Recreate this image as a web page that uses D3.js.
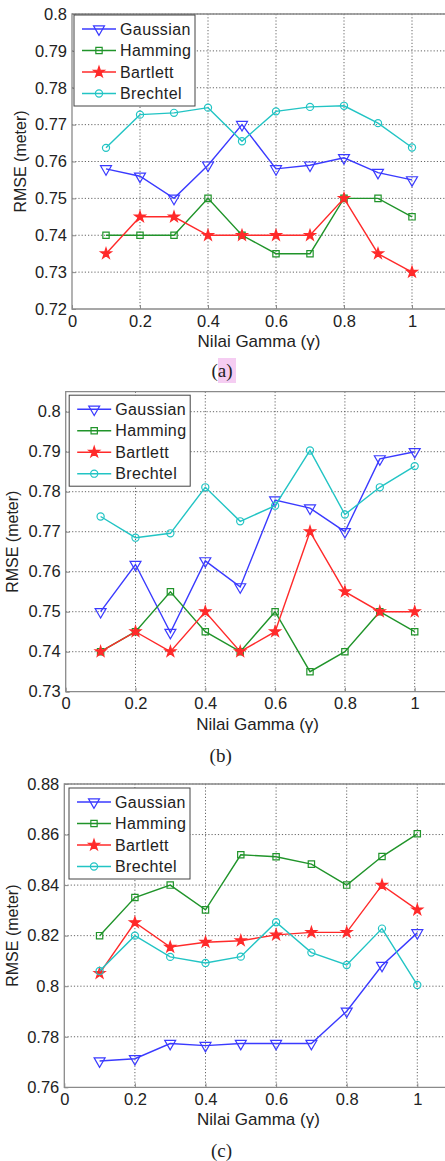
<!DOCTYPE html>
<html>
<head>
<meta charset="utf-8">
<script src="https://cdn.jsdelivr.net/npm/d3@7"></script>
<style>
  body { margin: 0; background: #fff; }
  text { font-family: Arial, "Liberation Sans", sans-serif; fill: #222; }
</style>
</head>
<body>
<script>
// gamma values (x axis)
var gamma = [0.1, 0.2, 0.3, 0.4, 0.5, 0.6, 0.7, 0.8, 0.9, 1.0];
var seriesNames = ["Gaussian", "Hamming", "Bartlett", "Brechtel"];
var xTicks = [0, 0.2, 0.4, 0.6, 0.8, 1];

// panel (a)
var aGaussian = [0.758, 0.756, 0.750, 0.759, 0.770, 0.758, 0.759, 0.761, 0.757, 0.755];
var aHamming  = [0.740, 0.740, 0.740, 0.750, 0.740, 0.735, 0.735, 0.750, 0.750, 0.745];
var aBartlett = [0.735, 0.745, 0.745, 0.740, 0.740, 0.740, 0.740, 0.750, 0.735, 0.730];
var aBrechtel = [0.7637, 0.7727, 0.7732, 0.7746, 0.7655, 0.7736, 0.7748, 0.7751, 0.7704, 0.7638];
var aTicks = [0.72, 0.73, 0.74, 0.75, 0.76, 0.77, 0.78, 0.79, 0.80];

// panel (b)
var bGaussian = [0.750, 0.7618, 0.7448, 0.7627, 0.7562, 0.7779, 0.7759, 0.770, 0.7882, 0.790];
var bHamming  = [0.740, 0.745, 0.755, 0.745, 0.740, 0.750, 0.735, 0.740, 0.750, 0.745];
var bBartlett = [0.740, 0.745, 0.740, 0.750, 0.740, 0.745, 0.770, 0.755, 0.750, 0.750];
var bBrechtel = [0.7738, 0.7685, 0.7696, 0.7811, 0.7726, 0.7765, 0.7903, 0.7743, 0.7811, 0.7864];
var bTicks = [0.73, 0.74, 0.75, 0.76, 0.77, 0.78, 0.79, 0.80];

// panel (c)
var cGaussian = [0.7704, 0.7713, 0.7773, 0.7765, 0.7773, 0.7773, 0.7773, 0.7901, 0.8082, 0.8211];
var cHamming  = [0.820, 0.8351, 0.840, 0.8302, 0.852, 0.8512, 0.8483, 0.840, 0.8513, 0.8603];
var cBartlett = [0.8051, 0.8252, 0.8155, 0.8174, 0.818, 0.8203, 0.8213, 0.8213, 0.840, 0.8302];
var cBrechtel = [0.806, 0.820, 0.8116, 0.8092, 0.8117, 0.8253, 0.8133, 0.8084, 0.8228, 0.8005];
var cTicks = [0.76, 0.78, 0.80, 0.82, 0.84, 0.86, 0.88];

var colors = ["#3a3aff", "#20942a", "#ff2a2a", "#22c4c4"];
var markers = [d3.symbolTriangle, d3.symbolSquare, d3.symbolStar, d3.symbolCircle];
var markerSize = [52, 40, 36, 40];

var svg = d3.select("body").append("svg")
    .attr("width", 445)
    .attr("height", 1161);

function marker(g, i, x, y){
    var s = g.append("path")
        .attr("d", d3.symbol().type(markers[i]).size(markerSize[i])())
        .attr("transform", "translate(" + x + "," + y + ")" + (i == 0 ? " rotate(180)" : ""))
        .attr("stroke", colors[i])
        .attr("stroke-width", 1.2);
    if (i == 2) s.attr("fill", colors[i]); else s.attr("fill", "none");
}

function drawPanel(p){
    var x = d3.scaleLinear().domain([0, 1.1]).range([p.left, p.right]);
    var y = d3.scaleLinear().domain(p.yDomain).range([p.bottom, p.top]);
    var g = svg.append("g");

    // dotted grid
    g.selectAll(".gx").data(xTicks.slice(1)).enter().append("line")
        .attr("x1", d => x(d)).attr("x2", d => x(d))
        .attr("y1", p.top).attr("y2", p.bottom)
        .attr("stroke", "#555").attr("stroke-width", 0.9).attr("stroke-dasharray", "1.2,2");
    g.selectAll(".gy").data(p.yTicks.slice(1)).enter().append("line")
        .attr("x1", p.left).attr("x2", p.right)
        .attr("y1", d => y(d)).attr("y2", d => y(d))
        .attr("stroke", "#555").attr("stroke-width", 0.9).attr("stroke-dasharray", "1.2,2");

    // frame
    g.append("path")
        .attr("d", "M" + p.right + "," + p.top + "H" + p.left + "V" + p.bottom + "H" + p.right)
        .attr("fill", "none").attr("stroke", "#8a8a8a").attr("stroke-width", 1.3);

    // tick marks + labels
    var yAxis = d3.axisLeft(y).tickValues(p.yTicks).tickSize(-4).tickPadding(5)
        .tickFormat(d => String(+d.toFixed(2)));
    var ya = g.append("g").attr("transform", "translate(" + p.left + ",0)").call(yAxis);
    var xAxis = d3.axisBottom(x).tickValues(xTicks).tickSize(-4).tickPadding(6)
        .tickFormat(d => String(+d.toFixed(1)));
    var xa = g.append("g").attr("transform", "translate(0," + p.bottom + ")").call(xAxis);
    [ya, xa].forEach(function(a){
        a.select(".domain").remove();
        a.selectAll(".tick line").attr("stroke", "#8a8a8a");
        a.selectAll(".tick text").attr("font-size", 16.5).attr("fill", "#222")
            .style("font-family", "Arial, 'Liberation Sans', sans-serif");
    });

    // lines and markers
    p.series.forEach(function(vals, i){
        var line = d3.line().x((d, k) => x(gamma[k])).y(d => y(d));
        g.append("path").datum(vals)
            .attr("d", line)
            .attr("fill", "none")
            .attr("stroke", colors[i])
            .attr("stroke-width", 1.4);
        vals.forEach(function(v, k){ marker(g, i, x(gamma[k]), y(v)); });
    });

    // legend
    var lg = g.append("g");
    lg.append("rect")
        .attr("x", p.left + p.legend[0]).attr("y", p.top + p.legend[1])
        .attr("width", 121).attr("height", 91)
        .attr("fill", "#fff").attr("stroke", "#444").attr("stroke-width", 1);
    seriesNames.forEach(function(name, i){
        var ly = p.top + p.legend[1] + 14 + i * 21.5;
        var lx = p.left + p.legend[0];
        lg.append("line")
            .attr("x1", lx + 8).attr("x2", lx + 42)
            .attr("y1", ly).attr("y2", ly)
            .attr("stroke", colors[i]).attr("stroke-width", 1.4);
        marker(lg, i, lx + 25, ly);
        lg.append("text")
            .attr("x", lx + 46).attr("y", ly)
            .attr("dy", "0.36em")
            .attr("font-size", 16)
            .attr("letter-spacing", 0.4)
            .text(name);
    });

    // axis titles
    g.append("text")
        .attr("transform", "translate(" + p.ylabX + "," + (p.top + p.bottom) / 2 + ") rotate(-90)")
        .attr("text-anchor", "middle").attr("dy", "0.36em")
        .attr("font-size", 16)
        .text("RMSE (meter)");
    g.append("text")
        .attr("x", (p.left + p.right) / 2).attr("y", p.bottom + 32)
        .attr("text-anchor", "middle").attr("dy", "0.36em")
        .attr("font-size", 17)
        .text("Nilai Gamma (\u03b3)");

    // caption
    if (p.pink) {
        g.append("rect").attr("x", 218).attr("y", p.bottom + 49)
            .attr("width", 18).attr("height", 25).attr("fill", "#f5cdf2");
    }
    g.append("text")
        .attr("x", (p.left + p.right) / 2 - 37).attr("y", p.bottom + p.capDy)
        .attr("text-anchor", "middle").attr("dy", "0.36em")
        .attr("font-size", 19)
        .style("font-family", "'Liberation Serif', 'Times New Roman', serif")
        .text(p.caption);
}

drawPanel({left: 72, right: 446, top: 14, bottom: 309, yDomain: [0.72, 0.80], yTicks: aTicks,
    series: [aGaussian, aHamming, aBartlett, aBrechtel], legend: [2, 1], ylabX: 20,
    capDy: 61, caption: "(a)", pink: true});
drawPanel({left: 65.7, right: 449.6, top: 391.7, bottom: 691.7, yDomain: [0.73, 0.805], yTicks: bTicks,
    series: [bGaussian, bHamming, bBartlett, bBrechtel], legend: [3.5, 3.5], ylabX: 12,
    capDy: 63, caption: "(b)"});
drawPanel({left: 64.3, right: 452.6, top: 784, bottom: 1087.3, yDomain: [0.76, 0.88], yTicks: cTicks,
    series: [cGaussian, cHamming, cBartlett, cBrechtel], legend: [4.7, 4], ylabX: 12,
    capDy: 63, caption: "(c)"});
</script>
</body>
</html>
